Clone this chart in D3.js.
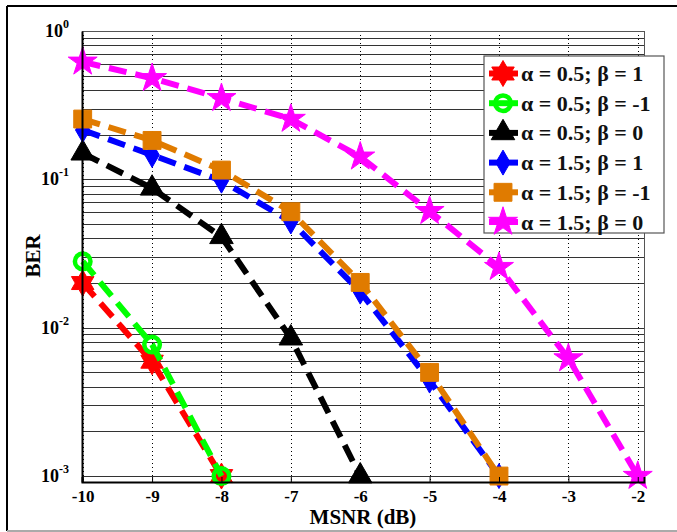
<!DOCTYPE html>
<html>
<head>
<meta charset="utf-8">
<script src="https://cdn.jsdelivr.net/npm/d3@7"></script>
<style>
  body { margin: 0; background: #fff; }
  svg { display: block; font-family: "Liberation Serif", "Times New Roman", serif; }
</style>
</head>
<body>
<svg width="677" height="532"></svg>
<script>
(function (d3) {
    'use strict';

    // data (BER vs MSNR)
    const msnr = [-10, -9, -8, -7, -6, -5, -4, -3, -2];
    const xTicks = [-10, -9, -8, -7, -6, -5, -4, -3, -2];
    const yTicks = [1e-3, 1e-2, 1e-1, 1];
    const yTickExp = ['-3', '-2', '-1', '0'];

    const berA05B1  = [0.020, 0.0059, 0.001];
    const berA05Bm1 = [0.028, 0.0077, 0.001];
    const berA05B0  = [0.150, 0.087, 0.041, 0.0085, 0.001];
    const berA15B1  = [0.215, 0.146, 0.098, 0.052, 0.0175, 0.0044, 0.001];
    const berA15Bm1 = [0.255, 0.183, 0.1155, 0.0605, 0.0202, 0.0050, 0.001];
    const berA15B0  = [0.62, 0.48, 0.352, 0.255, 0.142, 0.061, 0.0256, 0.0062, 0.001];

    const labels = ['α = 0.5; β = 1', 'α = 0.5; β = -1', 'α = 0.5; β = 0',
                    'α = 1.5; β = 1', 'α = 1.5; β = -1', 'α = 1.5; β = 0'];
    const colors = ['#ff0000', '#00ff00', '#000000', '#0000ff', '#e07b00', '#ff00ff'];

    // six pointed star (hexagram) like MATLAB 'h'
    const hexagram = {
        draw(context, size) {
            const R = Math.sqrt(size / 1.6);
            const r = R / Math.sqrt(3);
            for (let i = 0; i < 12; i++) {
                const a = -Math.PI / 2 + i * Math.PI / 6;
                const rad = i % 2 === 0 ? R : r;
                const px = rad * Math.cos(a), py = rad * Math.sin(a);
                if (i === 0) context.moveTo(px, py); else context.lineTo(px, py);
            }
            context.closePath();
        }
    };

    const series = [
        { values: berA05B1,  symbol: hexagram,          size: 270, fill: true },
        { values: berA05Bm1, symbol: d3.symbolCircle,   size: 190, fill: false },
        { values: berA05B0,  symbol: d3.symbolTriangle, size: 240, fill: true },
        { values: berA15B1,  symbol: d3.symbolDiamond,  size: 180, fill: true },
        { values: berA15Bm1, symbol: d3.symbolSquare,   size: 320, fill: true },
        { values: berA15B0,  symbol: d3.symbolStar,     size: 260, fill: true }
    ].map((s, i) => ({ ...s, label: labels[i], color: colors[i] }));

    const svg = d3.select('svg');
    const margin = { left: 82, top: 31, right: 644, bottom: 482 };

    const xScale = d3.scaleLinear()
        .domain([-10.01, -1.91])
        .range([margin.left, margin.right]);
    const yScale = d3.scaleLog()
        .domain([Math.pow(10, -3.04), 1])
        .range([margin.bottom, margin.top]);

    // outer figure frame
    svg.append('line').attr('x1', 7).attr('x2', 7).attr('y1', 6).attr('y2', 531)
        .attr('stroke', '#000').attr('stroke-width', 2);
    svg.append('line').attr('x1', 7).attr('x2', 677).attr('y1', 6).attr('y2', 6)
        .attr('stroke', '#000').attr('stroke-width', 2);
    svg.append('line').attr('x1', 7).attr('x2', 677).attr('y1', 531).attr('y2', 531)
        .attr('stroke', '#aaa').attr('stroke-width', 2);

    const plot = svg.append('g');
    plot.append('rect')
        .attr('x', margin.left).attr('y', margin.top)
        .attr('width', margin.right - margin.left)
        .attr('height', margin.bottom - margin.top)
        .attr('fill', '#fff');

    // horizontal log grid (major + minor, all solid)
    const gridY = yScale.ticks().filter(d => d >= 1e-3 && d <= 1);
    plot.selectAll('.hgrid').data(gridY).enter().append('line')
        .attr('class', 'hgrid')
        .attr('x1', margin.left).attr('x2', margin.right)
        .attr('y1', d => Math.round(yScale(d)) + 0.5)
        .attr('y2', d => Math.round(yScale(d)) + 0.5)
        .attr('stroke', '#333').attr('stroke-width', 1);

    // vertical dotted grid
    plot.selectAll('.vgrid').data(xTicks).enter().append('line')
        .attr('class', 'vgrid')
        .attr('x1', d => Math.round(xScale(d)) + 0.5)
        .attr('x2', d => Math.round(xScale(d)) + 0.5)
        .attr('y1', margin.top).attr('y2', margin.bottom)
        .attr('stroke', '#000').attr('stroke-width', 1)
        .attr('stroke-dasharray', '1,3');

    // axes box
    plot.append('line').attr('x1', margin.left).attr('x2', margin.right)
        .attr('y1', margin.top + 0.5).attr('y2', margin.top + 0.5)
        .attr('stroke', '#555');
    plot.append('line').attr('x1', margin.right + 0.5).attr('x2', margin.right + 0.5)
        .attr('y1', margin.top).attr('y2', margin.bottom)
        .attr('stroke', '#555');

    const xAxis = d3.axisBottom(xScale).tickValues(xTicks)
        .tickSize(-5).tickPadding(8).tickFormat(d3.format('d'));
    const xg = svg.append('g')
        .attr('transform', `translate(0, ${margin.bottom})`)
        .call(xAxis);
    xg.select('.domain').attr('stroke', '#000').attr('stroke-width', 2);
    xg.selectAll('.tick line').attr('stroke', '#000');
    xg.selectAll('.tick text')
        .attr('font-family', '"Liberation Serif", serif')
        .attr('font-size', 17).attr('font-weight', 'bold').attr('fill', '#000')
        .text(d => d3.format('d')(d).replace('−', '-'));

    const yAxis = d3.axisLeft(yScale).tickValues(yTicks).tickSize(0).tickFormat('');
    const yg = svg.append('g')
        .attr('transform', `translate(${margin.left}, 0)`)
        .call(yAxis);
    yg.select('.domain').attr('stroke', '#000').attr('stroke-width', 2);

    const yLab = svg.append('g').selectAll('text').data(yTicks).enter().append('text')
        .attr('x', 69)
        .attr('y', d => yScale(d) + 6)
        .attr('text-anchor', 'end')
        .attr('font-size', 18).attr('font-weight', 'bold');
    yLab.append('tspan').text('10');
    yLab.append('tspan')
        .attr('dy', -9).attr('font-size', 12)
        .text((d, i) => yTickExp[i]);

    // axis titles
    svg.append('text')
        .attr('x', 363).attr('y', 524)
        .attr('text-anchor', 'middle')
        .attr('font-size', 21).attr('font-weight', 'bold')
        .text('MSNR (dB)');
    svg.append('text')
        .attr('transform', 'translate(40, 256) rotate(-90)')
        .attr('text-anchor', 'middle')
        .attr('font-size', 21).attr('font-weight', 'bold')
        .text('BER');

    // series
    const line = d3.line()
        .x((d, i) => xScale(msnr[i]))
        .y(d => yScale(d));

    const symbolFor = s => d3.symbol().type(s.symbol).size(s.size)();

    series.forEach(s => {
        const g = plot.append('g');
        g.append('path')
            .attr('d', line(s.values))
            .attr('fill', 'none')
            .attr('stroke', s.color)
            .attr('stroke-width', 6)
            .attr('stroke-dasharray', '18,9');
        g.selectAll('path.mark').data(s.values).enter().append('path')
            .attr('class', 'mark')
            .attr('transform', (d, i) => `translate(${xScale(msnr[i])}, ${yScale(d)})`)
            .attr('d', symbolFor(s))
            .attr('fill', s.fill ? s.color : 'none')
            .attr('stroke', s.color)
            .attr('stroke-width', s.fill ? 1 : 4.5);
    });

    // legend
    const legend = svg.append('g').attr('transform', 'translate(484, 56)');
    legend.append('rect')
        .attr('width', 180).attr('height', 177)
        .attr('fill', '#fff').attr('stroke', '#555').attr('stroke-width', 1.2);
    const items = legend.selectAll('g.item').data(series).enter().append('g')
        .attr('class', 'item')
        .attr('transform', (d, i) => `translate(0, ${17.5 + i * 29.7})`);
    items.append('line')
        .attr('x1', 5).attr('x2', 34)
        .attr('stroke', d => d.color).attr('stroke-width', 6);
    items.append('path')
        .attr('transform', 'translate(19, 0)')
        .attr('d', d => symbolFor(d))
        .attr('fill', d => d.fill ? d.color : 'none')
        .attr('stroke', d => d.color)
        .attr('stroke-width', d => d.fill ? 1 : 4.5);
    items.append('text')
        .attr('x', 37).attr('y', 7.5)
        .attr('font-size', 22).attr('font-weight', 'bold')
        .attr('fill', '#111')
        .text(d => d.label);
}(d3));
</script>
</body>
</html>
